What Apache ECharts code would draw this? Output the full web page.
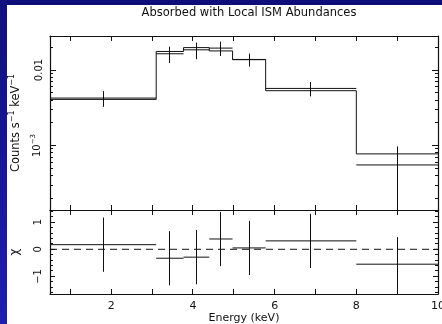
<!DOCTYPE html>
<html>
<head>
<meta charset="utf-8">
<script src="https://cdn.jsdelivr.net/npm/echarts@6/dist/echarts.min.js"></script>
<style>
  html, body { margin: 0; padding: 0; background: #fff; }
  #chart { width: 442px; height: 324px; }
</style>
</head>
<body>
<div id="chart"></div>
<script>
// Spectral bins (keV edges) and the folded spectrum
const binEdges   = [0.5, 3.1, 3.77, 4.40, 4.97, 5.78, 8.0, 10.0];
const modelRate  = [4.08e-3, 0.0176, 0.0198, 0.0179, 0.0137, 5.32e-3, 7.75e-4];
const dataRate   = [4.25e-3, 0.0164, 0.0185, 0.0195, 0.0138, 5.70e-3, 5.53e-4];
const dataErr    = [1.0e-3, 4.0e-3, 4.6e-3, 4.2e-3, 2.7e-3, 1.23e-3, 4.2e-4];
// Residuals in units of sigma
const chiResid   = [0.17, -0.33, -0.29, 0.38, 0.05, 0.31, -0.55];
const chiErr     = [1, 1, 1, 1, 1, 1, 1];

// Tick positions and labels
const energyTicks   = [1, 2, 3, 4, 5, 6, 7, 8, 9, 10];
const energyLabels  = [2, 4, 6, 8, 10];
const rateTicks     = [0.001, 0.01];
const rateMinor     = [2e-4, 3e-4, 4e-4, 5e-4, 6e-4, 7e-4, 8e-4, 9e-4,
                       2e-3, 3e-3, 4e-3, 5e-3, 6e-3, 7e-3, 8e-3, 9e-3, 0.02];
const chiTicks      = [-1, 0, 1];
const chiMinor      = [-1.6, -1.4, -1.2, -0.8, -0.6, -0.4, -0.2, 0.2, 0.4, 0.6, 0.8, 1.2, 1.4];

const FONT = 'DejaVu Sans';
const INK = '#111';
const X_MIN = 0.5, X_MAX = 10;
const RATE_MIN = 1.4e-4, RATE_MAX = 0.0282;
const CHI_MIN = -1.65, CHI_MAX = 1.45;

const chart = echarts.init(document.getElementById('chart'), null, { renderer: 'canvas' });

function energyAxis(gridIndex, position, withLabels) {
  return {
    type: 'value', gridIndex, position, min: X_MIN, max: X_MAX,
    axisLine: { show: true, onZero: false, lineStyle: { color: INK, width: 1.2 } },
    axisTick: { show: false },
    axisLabel: { show: withLabels, customValues: energyLabels, margin: 7,
                 fontFamily: FONT, fontSize: 11, color: INK },
    splitLine: { show: false },
    name: withLabels ? 'Energy (keV)' : '',
    nameLocation: 'middle', nameGap: 18,
    nameTextStyle: { fontFamily: FONT, fontSize: 11, color: INK }
  };
}

function rateLabel(v) {
  const p = Math.round(Math.log10(v));
  if (p === -2) return '{b|0.01}';
  return '{b|10}{s|\u2212' + (-p) + '}';
}

const tickRich = {
  b: { fontFamily: FONT, fontSize: 10, color: INK },
  s: { fontFamily: FONT, fontSize: 7, color: INK, padding: [0, 0, 7, 0] }
};
const nameRich = {
  b: { fontFamily: FONT, fontSize: 11.5, color: INK },
  s: { fontFamily: FONT, fontSize: 8, color: INK, padding: [0, 0, 8, 0] }
};

function rateAxis(position) {
  const main = position === 'left';
  return {
    type: 'log', logBase: 10, gridIndex: 0, position, min: RATE_MIN, max: RATE_MAX,
    axisLine: { show: true, onZero: false, lineStyle: { color: INK, width: 1.2 } },
    axisTick: { show: false },
    axisLabel: { show: main, customValues: rateTicks, rotate: 90, margin: 6,
                 formatter: rateLabel, rich: tickRich },
    splitLine: { show: false },
    name: main ? '{b|Counts s}{s|\u22121}{b| keV}{s|\u22121}' : '',
    nameLocation: 'middle', nameRotate: 90, nameGap: 26,
    nameTextStyle: { rich: nameRich }
  };
}

function chiAxis(position) {
  const main = position === 'left';
  return {
    type: 'value', gridIndex: 1, position, min: CHI_MIN, max: CHI_MAX,
    axisLine: { show: true, onZero: false, lineStyle: { color: INK, width: 1.2 } },
    axisTick: { show: false },
    axisLabel: { show: main, customValues: chiTicks, rotate: 90, margin: 7,
                 fontFamily: FONT, fontSize: 10, color: INK,
                 formatter: v => (v < 0 ? '\u2212' + Math.abs(v) : String(v)) },
    splitLine: { show: false },
    name: main ? '\u03c7' : '',
    nameLocation: 'middle', nameRotate: 90, nameGap: 29,
    nameTextStyle: { fontFamily: FONT, fontSize: 12, color: INK }
  };
}

const tickStyle = { stroke: INK, lineWidth: 1 };
const crisp = v => Math.round(v - 0.5) + 0.5;

// Inward ticks on the top and bottom frame lines of a panel
function xTicks(xAxisIndex, yAxisIndex, values, len, yRef) {
  return {
    type: 'custom', xAxisIndex, yAxisIndex, silent: true, clip: false, z: 3,
    data: values.map(v => [v, yRef]),
    renderItem: (params, api) => {
      const cs = params.coordSys;
      const x = crisp(api.coord([api.value(0), yRef])[0]);
      const y0 = cs.y, y1 = cs.y + cs.height;
      return { type: 'group', children: [
        { type: 'line', shape: { x1: x, y1: y0, x2: x, y2: y0 + len }, style: tickStyle },
        { type: 'line', shape: { x1: x, y1: y1, x2: x, y2: y1 - len }, style: tickStyle }
      ] };
    }
  };
}

// Inward ticks on the left and right frame lines of a panel
function yTicks(xAxisIndex, yAxisIndex, values, len) {
  return {
    type: 'custom', xAxisIndex, yAxisIndex, silent: true, clip: false, z: 3,
    data: values.map(v => [X_MIN, v]),
    renderItem: (params, api) => {
      const cs = params.coordSys;
      const y = crisp(api.coord([X_MIN, api.value(1)])[1]);
      const x0 = cs.x, x1 = cs.x + cs.width;
      return { type: 'group', children: [
        { type: 'line', shape: { x1: x0, y1: y, x2: x0 + len, y2: y }, style: tickStyle },
        { type: 'line', shape: { x1: x1, y1: y, x2: x1 - len, y2: y }, style: tickStyle }
      ] };
    }
  };
}

// Histogram outline of the model, built from the bin edges
const modelStep = [];
modelRate.forEach((m, i) => {
  modelStep.push([binEdges[i], m], [binEdges[i + 1], m]);
});

const dataCrosses = dataRate.map((v, i) => [binEdges[i], binEdges[i + 1], v, dataErr[i]]);
const chiCrosses  = chiResid.map((v, i) => [binEdges[i], binEdges[i + 1], v, chiErr[i]]);

function renderCross(params, api) {
  const x0 = api.value(0), x1 = api.value(1), y = api.value(2), e = api.value(3);
  const xm = (x0 + x1) / 2;
  const a = api.coord([x0, y]), b = api.coord([x1, y]);
  const t = api.coord([xm, y + e]), d = api.coord([xm, y - e]);
  const st = { stroke: INK, lineWidth: 1 };
  return {
    type: 'group',
    children: [
      { type: 'line', shape: { x1: a[0], y1: a[1], x2: b[0], y2: b[1] }, style: st },
      { type: 'line', shape: { x1: crisp(t[0]), y1: t[1], x2: crisp(d[0]), y2: d[1] }, style: st }
    ]
  };
}

const option = {
  backgroundColor: '#ffffff',
  animation: false,
  title: {
    text: 'Absorbed with Local ISM Abundances',
    left: 244, top: 2.5, textAlign: 'center',
    textStyle: { fontFamily: FONT, fontSize: 11.5, fontWeight: 'normal', color: INK }
  },
  graphic: [
    { type: 'rect', shape: { x: 0, y: 0, width: 442, height: 5 },
      style: { fill: '#0e0e7a' }, silent: true },
    { type: 'rect', shape: { x: 0, y: 0, width: 7, height: 324 },
      style: { fill: new echarts.graphic.LinearGradient(0, 0, 0, 1, [
        { offset: 0, color: '#10107e' }, { offset: 1, color: '#1e1eb0' }]) }, silent: true }
  ],
  grid: [
    { left: 50, top: 36, width: 388, height: 174, containLabel: false, outerBoundsMode: 'none' },
    { left: 50, top: 210, width: 388, height: 84, containLabel: false, outerBoundsMode: 'none' }
  ],
  xAxis: [
    energyAxis(0, 'bottom', false),
    energyAxis(0, 'top', false),
    energyAxis(1, 'bottom', true),
    energyAxis(1, 'top', false)
  ],
  yAxis: [
    rateAxis('left'),
    rateAxis('right'),
    chiAxis('left'),
    chiAxis('right')
  ],
  series: [
    {
      name: 'model', type: 'line', xAxisIndex: 0, yAxisIndex: 0,
      data: modelStep, symbol: 'none', silent: true,
      lineStyle: { color: INK, width: 1 }
    },
    {
      name: 'data', type: 'custom', xAxisIndex: 0, yAxisIndex: 0,
      data: dataCrosses, renderItem: renderCross, clip: true, silent: true
    },
    {
      name: 'zero', type: 'line', xAxisIndex: 2, yAxisIndex: 2,
      data: [[X_MIN, 0], [X_MAX, 0]], symbol: 'none', silent: true,
      lineStyle: { color: INK, width: 1, type: [7, 5] }
    },
    {
      name: 'residuals', type: 'custom', xAxisIndex: 2, yAxisIndex: 2,
      data: chiCrosses, renderItem: renderCross, clip: true, silent: true
    },
    xTicks(0, 0, energyTicks, 5, 1e-3),
    xTicks(2, 2, energyTicks, 5, 0),
    yTicks(0, 0, rateTicks, 6),
    yTicks(0, 0, rateMinor, 3),
    yTicks(2, 2, chiTicks, 5),
    yTicks(2, 2, chiMinor, 3)
  ]
};

chart.setOption(option);
</script>
</body>
</html>
